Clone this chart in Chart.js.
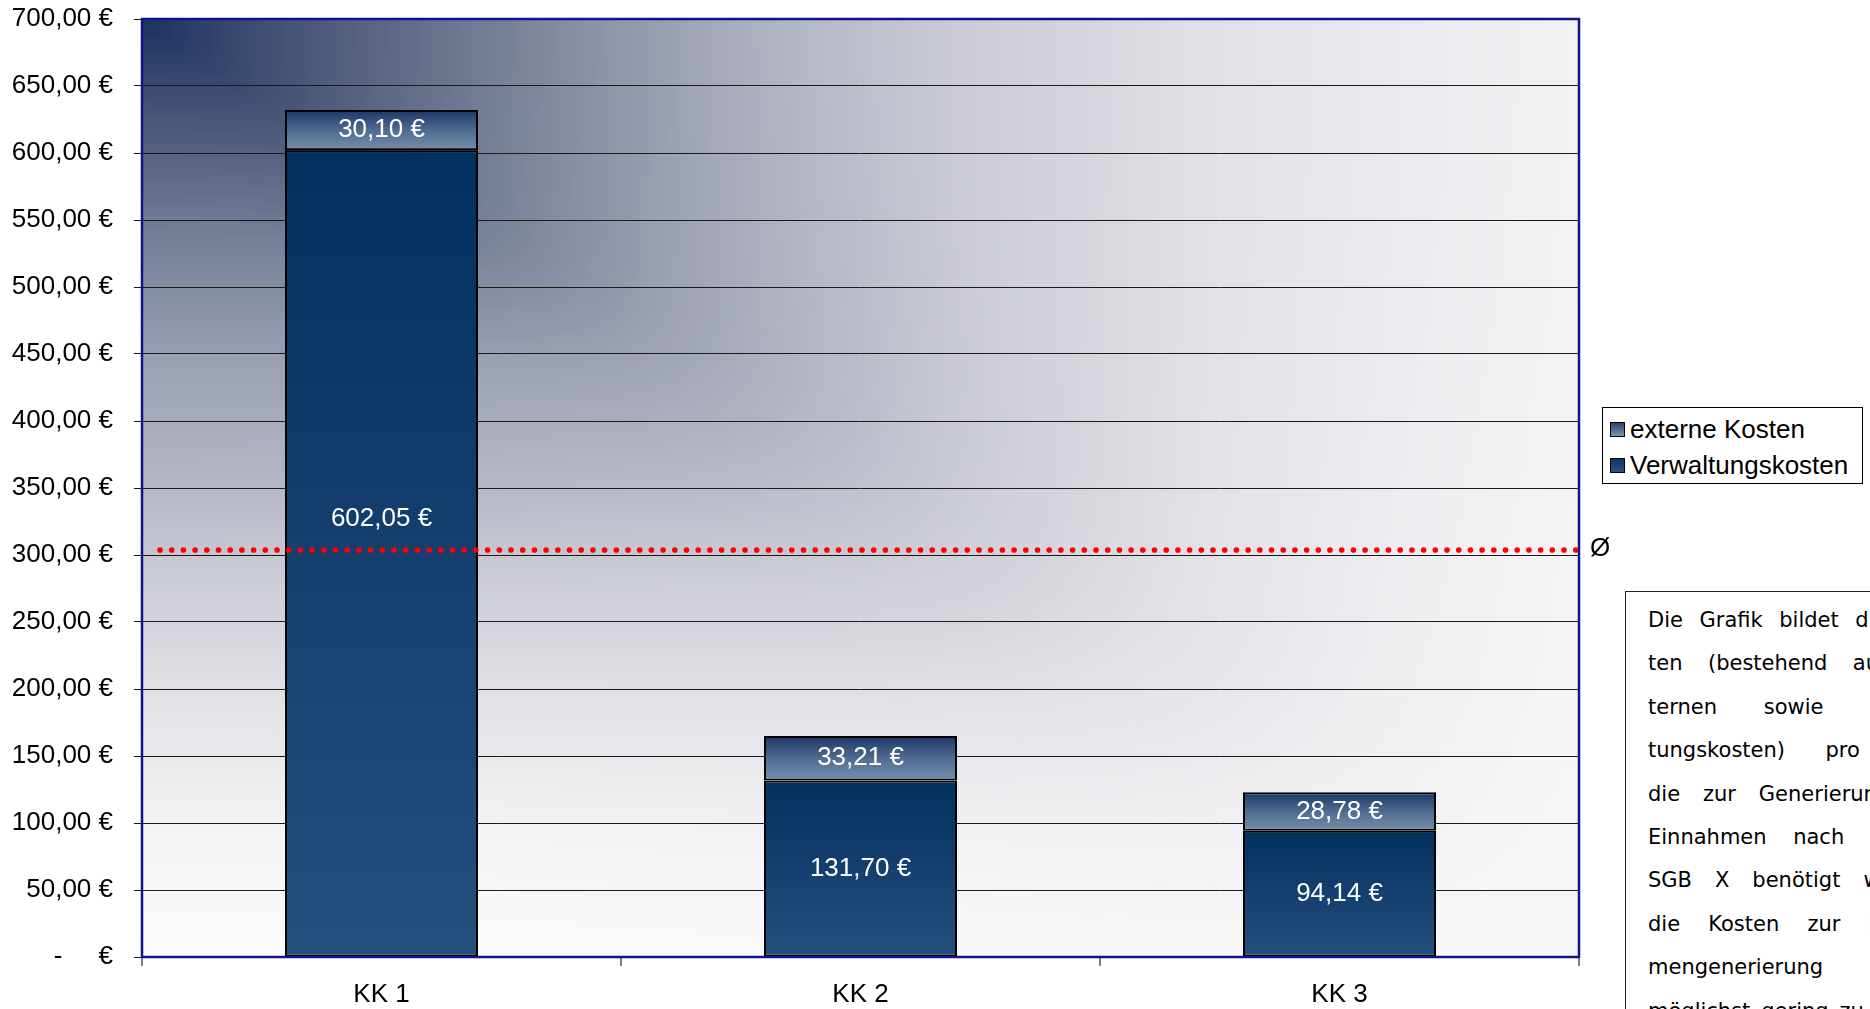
<!DOCTYPE html>
<html>
<head>
<meta charset="utf-8">
<script src="https://cdn.jsdelivr.net/npm/chart.js@4.4.1/dist/chart.umd.min.js"></script>
<style>
  html, body { margin: 0; padding: 0; background: #fff; overflow: hidden; }
  #wrap { position: relative; width: 1870px; height: 1009px; }
  #legend {
    position: absolute; left: 1602px; top: 407px; width: 259px; height: 75px;
    border: 1px solid #000; background: #fff;
    font: 26px "Liberation Sans", Arial, sans-serif; color: #000;
  }
  .row { position: absolute; left: 7px; height: 30px; line-height: 30px; white-space: nowrap; }
  .sw { display: inline-block; width: 13px; height: 13px; border: 1.5px solid #000; vertical-align: middle; margin-right: 5px; position: relative; top: -2px; }
  #note {
    position: absolute; left: 1625px; top: 591px; width: 420px; height: 500px;
    border: 1px solid #222; background: #fff;
    font: 21px "DejaVu Sans", Verdana, sans-serif; color: #000;
  }
  .ln { position: absolute; left: 22px; width: 300px; height: 43px; line-height: 43px;
        text-align: justify; text-align-last: justify; white-space: nowrap; }
</style>
</head>
<body>
<div id="wrap">
  <canvas id="chart" width="1870" height="1009"></canvas>
  <div id="legend">
    <div class="row" style="top:6px"><span class="sw" style="background:linear-gradient(#2a4470,#7a94b0)"></span>externe Kosten</div>
    <div class="row" style="top:42px"><span class="sw" style="background:linear-gradient(#0a3565,#2a5480)"></span>Verwaltungskosten</div>
  </div>
  <div id="note"></div>
</div>
<script>
const categories = ['KK 1', 'KK 2', 'KK 3'];
const verwaltungskosten = [602.05, 131.70, 94.14];
const externeKosten = [30.10, 33.21, 28.78];
const durchschnitt = 303.7; // dotted average line
const yMin = 0, yMax = 700, yStep = 50;

const noteLines = [
  'Die Grafik bildet die Kos-',
  'ten (bestehend aus ex-',
  'ternen sowie Verwal-',
  'tungskosten) pro Euro',
  'die zur Generierung der',
  'Einnahmen nach § 116',
  'SGB X benötigt werden.',
  'die Kosten zur Einnah-',
  'mengenerierung so',
  'möglichst gering zu halten.'
];

const note = document.getElementById('note');
noteLines.forEach((t, i) => {
  const d = document.createElement('div');
  d.className = 'ln';
  d.style.top = (7 + i * 43.4) + 'px';
  d.textContent = t;
  note.appendChild(d);
});

const euro = v => v.toFixed(2).replace('.', ',') + ' €';
const arial = size => ({ family: '"Liberation Sans", Arial, sans-serif', size: size });

// vertical gradient for one stacked segment
function segFill(ctx, lowArr, highArr, stops, fallback) {
  const chart = ctx.chart;
  if (!chart.chartArea || ctx.dataIndex === undefined) return fallback;
  const y = chart.scales.y;
  const i = ctx.dataIndex;
  const low = lowArr ? lowArr[i] : 0;
  const top = y.getPixelForValue(low + highArr[i]);
  const bottom = y.getPixelForValue(low);
  const g = chart.ctx.createLinearGradient(0, top, 0, bottom);
  stops.forEach(s => g.addColorStop(s[0], s[1]));
  return g;
}

function hex(c) { return [1, 3, 5].map(k => parseInt(c.substr(k, 2), 16)); }
function lut(stops) {
  const out = [];
  for (let n = 0; n <= 255; n++) {
    const t = n / 255;
    let j = 0;
    while (j < stops.length - 2 && t > stops[j + 1][0]) j++;
    const [t0, c0] = stops[j], [t1, c1] = stops[j + 1];
    const f = Math.min(1, Math.max(0, (t - t0) / (t1 - t0)));
    const a = hex(c0), b = hex(c1);
    out.push(a.map((v, k) => v + (b[k] - v) * f));
  }
  return out;
}

// "from corner" gradient: ramps along x and along y meeting on the diagonal
const hRamp = lut([[0, '#1a3363'], [0.067, '#3a4970'], [0.15, '#56627f'], [0.233, '#727a94'],
                   [0.316, '#8d92a8'], [0.4, '#a5a9ba'], [0.48, '#b9bcc8'], [0.565, '#cacbd4'],
                   [0.73, '#dfe0e5'], [0.9, '#ececf0'], [1, '#f2f2f4']]);
const vRamp = lut([[0, '#1a3363'], [0.107, '#4a5678'], [0.234, '#76809a'], [0.36, '#9aa0b2'],
                   [0.49, '#b2b5c3'], [0.615, '#cfd0d8'], [0.74, '#e4e4e8'], [0.87, '#f4f4f5'],
                   [1, '#fbfbfb']]);

const plotBackground = {
  id: 'plotBackground',
  beforeDraw(chart) {
    const { ctx, chartArea: a } = chart;
    const x0 = Math.round(a.left), y0 = Math.round(a.top);
    const w = Math.round(a.right) - x0, h = Math.round(a.bottom) - y0;
    const img = ctx.createImageData(w, h);
    const d = img.data, p = 10;
    for (let y = 0; y < h; y++) {
      const v = y / h, vp = Math.pow(v, p), v2 = v * v;
      for (let x = 0; x < w; x++) {
        const u = x / w, up = Math.pow(u, p), u2 = u * u;
        const s = up + vp;
        const t = Math.min(1, Math.pow(s, 1 / p));
        const wv = (u2 + v2) > 0 ? v2 / (u2 + v2) : 0.5;
        const n = Math.round(t * 255);
        const ch = hRamp[n], cv = vRamp[n];
        const i = (y * w + x) * 4;
        d[i] = ch[0] + (cv[0] - ch[0]) * wv;
        d[i + 1] = ch[1] + (cv[1] - ch[1]) * wv;
        d[i + 2] = ch[2] + (cv[2] - ch[2]) * wv;
        d[i + 3] = 255;
      }
    }
    ctx.putImageData(img, x0, y0);
  }
};

const averageLine = {
  id: 'averageLine',
  afterDatasetsDraw(chart) {
    const { ctx, chartArea: a } = chart;
    const y = chart.scales.y.getPixelForValue(durchschnitt);
    ctx.save();
    ctx.fillStyle = '#ff0000';
    for (let x = a.left + 18; x < a.right - 2; x += 11.7) {
      ctx.beginPath();
      ctx.arc(x, y, 2.8, 0, Math.PI * 2);
      ctx.fill();
    }
    // plot frame
    ctx.strokeStyle = '#12128a';
    ctx.lineWidth = 2.5;
    ctx.strokeRect(a.left, a.top, a.right - a.left, a.bottom - a.top);
    ctx.fillStyle = '#000';
    ctx.font = '26px "Liberation Sans", Arial, sans-serif';
    ctx.textAlign = 'left';
    ctx.textBaseline = 'middle';
    ctx.fillText('Ø', a.right + 11, y - 1);
    ctx.restore();
  }
};

const valueLabels = {
  id: 'valueLabels',
  afterDatasetsDraw(chart, args, opts) {
    const ctx = chart.ctx;
    ctx.save();
    ctx.fillStyle = '#fff';
    ctx.font = '26px "Liberation Sans", Arial, sans-serif';
    ctx.textAlign = 'center';
    ctx.textBaseline = 'middle';
    chart.data.datasets.forEach((ds, di) => {
      chart.getDatasetMeta(di).data.forEach((bar, i) => {
        const shift = (opts.shift[di] || [])[i] || 0;
        ctx.fillText(euro(ds.data[i]), bar.x, (bar.y + bar.base) / 2 + shift);
      });
    });
    ctx.restore();
  }
};

new Chart(document.getElementById('chart'), {
  type: 'bar',
  data: {
    labels: categories,
    datasets: [
      {
        label: 'Verwaltungskosten',
        data: verwaltungskosten,
        backgroundColor: c => segFill(c, null, verwaltungskosten,
          [[0, '#02305f'], [0.45, '#123d6c'], [1, '#25507e']], '#1a4272'),
        borderColor: '#000',
        borderWidth: 2,
        borderSkipped: false
      },
      {
        label: 'externe Kosten',
        data: externeKosten,
        backgroundColor: c => segFill(c, verwaltungskosten, externeKosten,
          [[0, '#1c3666'], [0.5, '#4f6b90'], [1, '#7590ab']], '#4f6b90'),
        borderColor: '#000',
        borderWidth: 2,
        borderSkipped: false
      }
    ]
  },
  options: {
    responsive: false,
    animation: false,
    layout: { padding: { left: 0, top: 19, right: 291, bottom: 0 } },
    datasets: { bar: { categoryPercentage: 1, barPercentage: 0.403 } },
    plugins: {
      legend: { display: false },
      tooltip: { enabled: false },
      valueLabels: { shift: [[-35, 0, 0], [0, 0, 0]] }
    },
    scales: {
      x: {
        stacked: true,
        grid: { offset: true, drawOnChartArea: false, tickLength: 9, color: '#808080', lineWidth: 2 },
        border: { display: false },
        ticks: { color: '#000', font: arial(26), padding: 13 },
        afterFit(s) { s.height = 52; }
      },
      y: {
        stacked: true,
        min: yMin,
        max: yMax,
        grid: { color: '#1a1a1a', lineWidth: 1, tickLength: 8 },
        border: { display: false },
        ticks: {
          stepSize: yStep,
          color: '#000',
          font: arial(26),
          padding: 21,
          callback: v => v === 0 ? '-     €' : euro(v)
        },
        afterFit(s) { s.width = 142; s.paddingTop = 0; s.paddingBottom = 0; }
      }
    }
  },
  plugins: [plotBackground, averageLine, valueLabels]
});
</script>
</body>
</html>
